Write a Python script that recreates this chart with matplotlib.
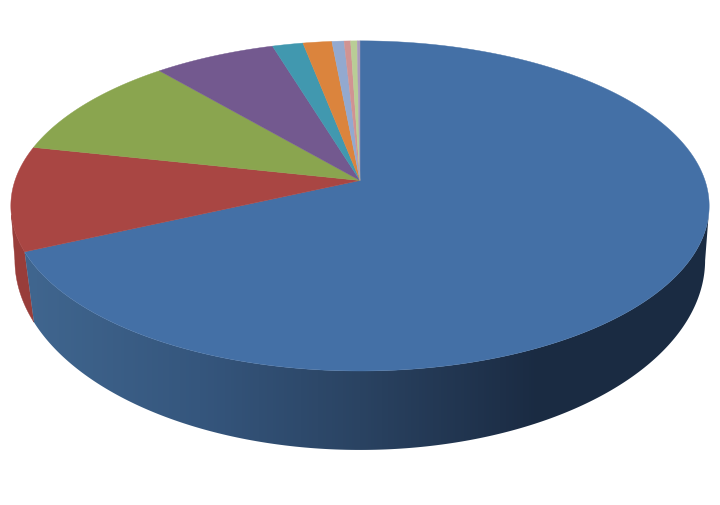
import matplotlib
matplotlib.use('Agg')
import matplotlib.pyplot as plt
from matplotlib.colors import LinearSegmentedColormap, to_rgb
from matplotlib.patches import Polygon
import numpy as np

# share of each slice in percent, clockwise from 12 o'clock
values = [68.2, 10.2, 10.35, 6.55, 1.65, 1.55, 0.65, 0.35, 0.35, 0.15]
colors = ['#4470A6', '#A94643', '#8AA54F', '#73598F', '#4198AF',
          '#DB843D', '#93A9CF', '#D19392', '#B9CD96', '#A99BBD']

# perspective of the disc, in image pixels
CX = 360
TOP = dict(r=345, a=-133.2, b=181.5, c=0.154)
BOTTOM = dict(r=341, a=-149.8, b=231.7, c=0.154)
WALL_SKEW = np.radians(2.8)

# where the wall silhouette leaves the top and bottom rims
RIGHT_TOP, RIGHT_BOTTOM = np.radians(102), np.radians(99)
LEFT_TOP, LEFT_BOTTOM = np.radians(258), np.radians(261)

# side wall shading, light on the left to dark on the right
BLUE_STOPS_X = [25, 200, 360, 500, 540, 720]
BLUE_STOPS = ['#40668f', '#35567d', '#2a4362', '#1e3049', '#1a2b42', '#1a2b42']
RED_WALL = '#983d3a'


def project(theta, p):
    u, v = np.sin(theta), np.cos(theta)
    w = 1 + p['c'] * v
    return CX + p['r'] * u / w, (p['a'] * v + p['b']) / w


def wall_outline(t0, t1, b0, b1):
    xt, yt = project(np.linspace(t0, t1, 200), TOP)
    xb, yb = project(np.linspace(b0, b1, 200), BOTTOM)
    return np.c_[np.r_[xt, xb[::-1]], np.r_[yt, yb[::-1]]]


fig = plt.figure(figsize=(7.2, 5.06), dpi=100, facecolor='white')
ax = fig.add_axes([0, 0, 1, 1])

edges = np.radians(np.cumsum([0] + values) * 3.6)

# red wall goes first, the blue one overlaps its front edge
ax.add_patch(Polygon(wall_outline(edges[1], LEFT_TOP, edges[1] - WALL_SKEW, LEFT_BOTTOM),
                     facecolor=RED_WALL, edgecolor=RED_WALL, lw=0.3, zorder=1))

# blue wall: horizontal gradient clipped to the wall shape
cmap = LinearSegmentedColormap.from_list(
    'wall', [(x / 720, to_rgb(c)) for x, c in zip([0] + BLUE_STOPS_X, BLUE_STOPS[:1] + BLUE_STOPS)])
grad = ax.imshow(np.linspace(0, 1, 720)[None, :], cmap=cmap, vmin=0, vmax=1,
                 extent=(0, 720, 506, 0), aspect='auto', zorder=2)
clip = Polygon(wall_outline(RIGHT_TOP, edges[1], RIGHT_BOTTOM, edges[1] - WALL_SKEW),
               transform=ax.transData)
grad.set_clip_path(clip)

# top face
cy0 = TOP['b']
for i, col in enumerate(colors):
    t = np.linspace(edges[i], edges[i + 1], max(int(values[i] * 8), 4))
    x, y = project(t, TOP)
    ax.fill(np.r_[CX, x], np.r_[cy0, y], color=col, lw=0.3, zorder=3)

ax.set_xlim(0, 720)
ax.set_ylim(506, 0)
ax.axis('off')

fig.savefig('out.png', dpi=100, facecolor='white')
